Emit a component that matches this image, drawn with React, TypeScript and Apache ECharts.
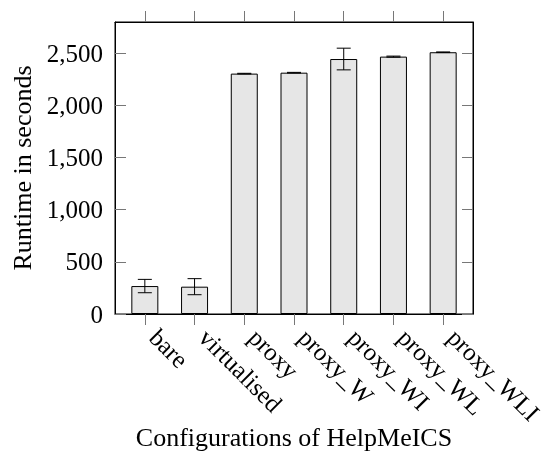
import React, { useEffect, useRef } from "react";
import * as echarts from "echarts";

const categories = ["bare", "virtualised", "proxy", "proxy_W", "proxy_WI", "proxy_WL", "proxy_WLI"];
const runtimes = [268, 262, 2305, 2314, 2445, 2468, 2510];
const errors = [64, 77, 3, 3, 104, 5, 3];
const yTicks = [0, 500, 1000, 1500, 2000, 2500];
const xTicks = categories.map((_, i) => i);

const FONT = "'Liberation Serif', 'Times New Roman', serif";

export default function App() {
  const ref = useRef<HTMLDivElement>(null);
  useEffect(() => {
    if (!ref.current) return;
    const chart = echarts.init(ref.current, null, { renderer: "svg" });
    const tickStyle = { color: "#777", width: 1 };
    const frameLine = { show: true, onZero: false, lineStyle: { color: "#000", width: 1 } };
    chart.setOption({
      animation: false,
      grid: {
        left: 115,
        right: 71,
        top: 22,
        bottom: 138,
        show: true,
        borderColor: "#000",
        borderWidth: 1,
        containLabel: false,
        outerBoundsMode: "none",
      },
      xAxis: [
        {
          type: "value",
          position: "bottom",
          min: -0.6,
          max: 6.6,
          name: "Configurations of HelpMeICS",
          nameLocation: "middle",
          nameGap: 110,
          nameMoveOverlap: false,
          nameTextStyle: { fontFamily: FONT, fontSize: 26, color: "#000" },
          axisLine: frameLine,
          axisTick: { show: true, inside: false, length: 11, customValues: xTicks, lineStyle: tickStyle },
          axisLabel: {
            customValues: xTicks,
            rotate: -45,
            margin: 28,
            verticalAlign: "bottom",
            fontFamily: FONT,
            fontSize: 25,
            color: "#000",
            formatter: (v: number) => categories[Math.round(v)] ?? "",
          },
          splitLine: { show: false },
        },
        {
          type: "value",
          position: "top",
          min: -0.6,
          max: 6.6,
          axisLine: frameLine,
          axisTick: { show: true, inside: false, length: 11, customValues: xTicks, lineStyle: tickStyle },
          axisLabel: { show: false },
          splitLine: { show: false },
        },
      ],
      yAxis: [
        {
          type: "value",
          position: "left",
          min: 0,
          max: 2800,
          name: "Runtime in seconds",
          nameLocation: "middle",
          nameGap: 80,
          nameMoveOverlap: false,
          nameTextStyle: { fontFamily: FONT, fontSize: 26, color: "#000" },
          axisLine: frameLine,
          axisTick: { show: true, inside: true, length: 11, customValues: yTicks, lineStyle: tickStyle },
          axisLabel: {
            customValues: yTicks,
            margin: 12,
            fontFamily: FONT,
            fontSize: 25,
            color: "#000",
            formatter: (v: number) => v.toLocaleString("en-US"),
          },
          splitLine: { show: false },
        },
        {
          type: "value",
          position: "right",
          min: 0,
          max: 2800,
          axisLine: frameLine,
          axisTick: { show: true, inside: true, length: 11, customValues: yTicks, lineStyle: tickStyle },
          axisLabel: { show: false },
          splitLine: { show: false },
        },
      ],
      series: [
        {
          type: "bar",
          xAxisIndex: 0,
          yAxisIndex: 0,
          barWidth: 27,
          data: categories.map((_, i) => [i, runtimes[i]]),
          itemStyle: { color: "#e6e6e6", borderColor: "#000", borderWidth: 1 },
        },
        {
          type: "custom",
          xAxisIndex: 0,
          yAxisIndex: 0,
          z: 5,
          data: categories.map((_, i) => [i, runtimes[i], errors[i]]),
          encode: { x: 0, y: 1 },
          renderItem: (params: any, api: any) => {
            const x = api.value(0);
            const v = api.value(1);
            const e = api.value(2);
            const top = api.coord([x, v + e]);
            const bot = api.coord([x, v - e]);
            const hw = 7;
            const style = { stroke: "#000", lineWidth: 1 };
            return {
              type: "group",
              children: [
                { type: "line", shape: { x1: top[0], y1: top[1], x2: bot[0], y2: bot[1] }, style },
                { type: "line", shape: { x1: top[0] - hw, y1: top[1], x2: top[0] + hw, y2: top[1] }, style },
                { type: "line", shape: { x1: bot[0] - hw, y1: bot[1], x2: bot[0] + hw, y2: bot[1] }, style },
              ],
            };
          },
        },
      ],
    });
    return () => chart.dispose();
  }, []);
  return <div ref={ref} style={{ position: "fixed", left: 0, top: 0, width: 544, height: 452 }} />;
}
